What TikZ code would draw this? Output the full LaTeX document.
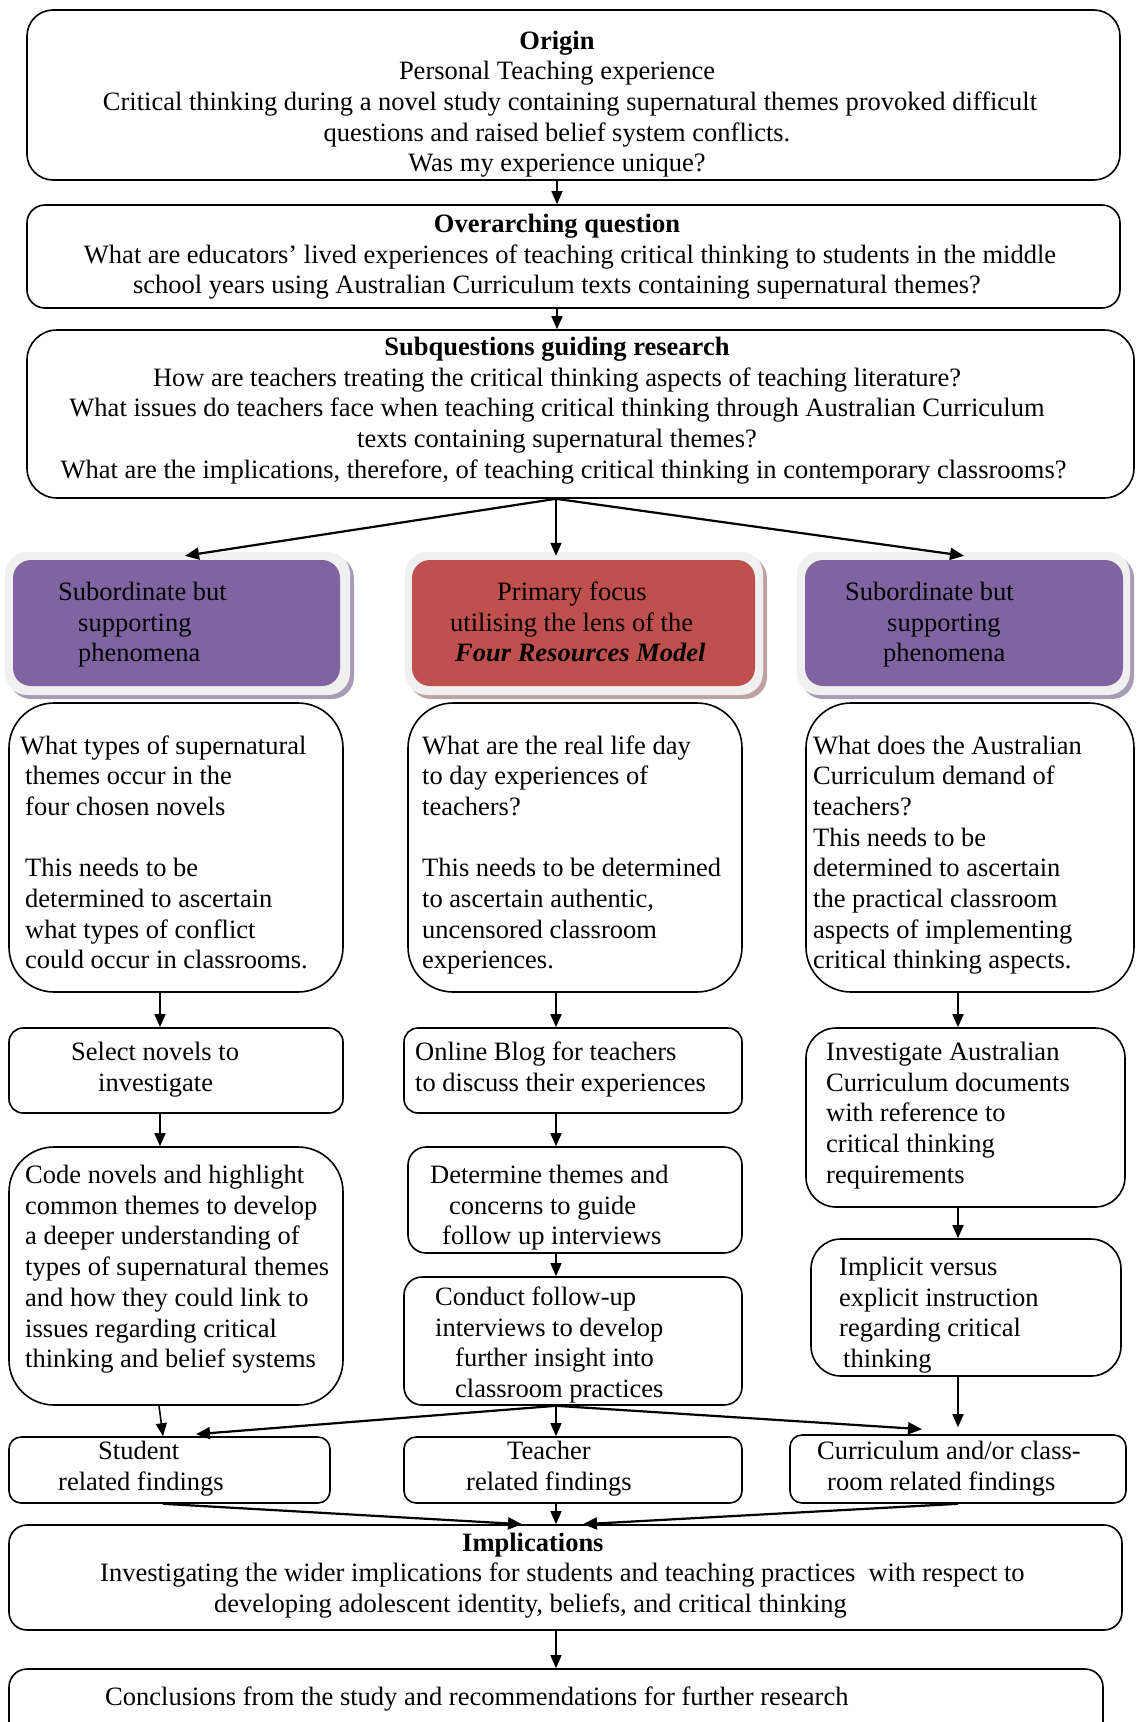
\documentclass[tikz,border=0pt]{standalone}
\usepackage{fontspec}
\setmainfont{Liberation Serif}
\usetikzlibrary{arrows.meta,calc}
\definecolor{purp}{HTML}{8064A2}
\definecolor{redb}{HTML}{C0504D}
\definecolor{halo}{HTML}{F0F0F0}
\definecolor{shadp}{HTML}{A69CB6}
\definecolor{shadr}{HTML}{BDA2A2}
\newcommand\mkbox[7][box]{%
  \node[#1, rounded corners=#7pt, minimum width={(#4-#2)*1pt}, minimum height={(#5-#3)*1pt}]
    (#6) at ({(#2+#4)/2},{(#3+#5)/2}) {};}
\begin{document}
\begin{tikzpicture}[x=1pt,y=-1pt,
  box/.style={draw=black, line width=1.6pt, rectangle, inner sep=0pt, fill=white},
  halobox/.style={draw=none, fill=halo, rectangle, inner sep=0pt},
  shadowp/.style={draw=none, fill=shadp, rectangle, inner sep=0pt},
  shadowr/.style={draw=none, fill=shadr, rectangle, inner sep=0pt},
  purpbox/.style={draw=none, fill=purp, rectangle, inner sep=0pt},
  redbox/.style={draw=none, fill=redb, rectangle, inner sep=0pt},
  txt/.style={inner sep=0pt, font=\fontsize{26.5}{30.7}\selectfont},
  ltxt/.style={txt, anchor=base west, align=left},
  ctxt/.style={txt, anchor=base, align=center},
  arr/.style={-{Triangle[length=13pt,width=11pt]}, line width=1.6pt},
  sarr/.style={-{Triangle[length=14pt,width=12pt]}, line width=2.2pt}
]
\useasboundingbox (0,0) rectangle (1136,1722);
% (text nodes are anchored at the baseline of their LAST line)

% ---------- top boxes ----------
\mkbox{27}{10}{1120}{180}{origin}{26}
\node[ctxt] (origin-t) at (557,171.8)
 {\textbf{Origin}\\Personal Teaching experience\\
  \hspace*{26pt}Critical thinking during a novel study containing supernatural themes provoked difficult\\
  questions and raised belief system conflicts.\\Was my experience unique?};

\mkbox{27}{205}{1120}{308}{over}{18}
\node[ctxt] (over-t) at (557,293.9)
 {\textbf{Overarching question}\\
  \hspace*{26pt}What are educators’ lived experiences of teaching critical thinking to students in the middle\\
  school years using Australian Curriculum texts containing supernatural themes?};

\mkbox{27}{330}{1134}{498}{subq}{30}
\node[ctxt] (subq-t) at (557,478.3)
 {\textbf{Subquestions guiding research}\\
  How are teachers treating the critical thinking aspects of teaching literature?\\
  What issues do teachers face when teaching critical thinking through Australian Curriculum\\
  texts containing supernatural themes?\\
  \hspace*{13pt}What are the implications, therefore, of teaching critical thinking in contemporary classrooms?};

% ---------- coloured boxes ----------
\mkbox[shadowp]{9}{556}{354}{699}{pl-s}{22}
\mkbox[halobox]{5}{552}{350}{695}{pl}{22}
\mkbox[purpbox]{13}{560}{340}{686}{pl-i}{18}
\node[ltxt] (pl-t) at (58,661.9)
 {Subordinate but\\\hspace*{20pt}supporting\\\hspace*{20pt}phenomena};

\mkbox[shadowr]{409}{556}{767}{699}{pm-s}{22}
\mkbox[halobox]{405}{552}{763}{695}{pm}{22}
\mkbox[redbox]{412}{560}{755}{686}{pm-i}{18}
\node[ltxt] (pm-t) at (450,661.9)
 {\hspace*{47pt}Primary focus\\utilising the lens of the\\\hspace*{5pt}\textbf{\textit{Four Resources Model}}};

\mkbox[shadowp]{801}{556}{1134}{699}{pr-s}{22}
\mkbox[halobox]{797}{552}{1130}{695}{pr}{22}
\mkbox[purpbox]{805}{560}{1123}{686}{pr-i}{18}
\node[ltxt] (pr-t) at (845,661.9)
 {Subordinate but\\\hspace*{42pt}supporting\\\hspace*{38pt}phenomena};

% ---------- question boxes ----------
\mkbox{9}{703}{343}{992}{qL}{45}
\node[ltxt] (qL-t) at (20,968.9)
 {What types of supernatural\\\hspace*{5pt}themes occur in the\\\hspace*{5pt}four chosen novels\\[30.7pt]
  \hspace*{5pt}This needs to be\\\hspace*{5pt}determined to ascertain\\\hspace*{5pt}what types of conflict\\\hspace*{5pt}could occur in classrooms.};

\mkbox{408}{703}{742}{992}{qM}{45}
\node[ltxt] (qM-t) at (422,968.9)
 {What are the real life day\\to day experiences of\\teachers?\\[30.7pt]
  This needs to be determined\\to ascertain authentic,\\uncensored classroom\\experiences.};

\mkbox{806}{703}{1134}{992}{qR}{45}
\node[ltxt] (qR-t) at (813,968.9)
 {What does the Australian\\Curriculum demand of\\teachers?\\This needs to be\\determined to ascertain\\the practical classroom\\aspects of implementing\\critical thinking aspects.};

% ---------- second row ----------
\mkbox{9}{1028}{343}{1113}{select}{14}
\node[ltxt] (select-t) at (71,1091.2) {Select novels to\\\hspace*{27pt}investigate};

\mkbox{404}{1028}{742}{1113}{blog}{14}
\node[ltxt] (blog-t) at (415,1091.2) {Online Blog for teachers\\to discuss their experiences};

\mkbox{806}{1028}{1125}{1207}{invest}{30}
\node[ltxt] (invest-t) at (826,1183.3)
 {Investigate Australian\\Curriculum documents\\with reference to\\critical thinking\\requirements};

\mkbox{9}{1147}{343}{1405}{code}{45}
\node[ltxt] (code-t) at (25,1367.7)
 {Code novels and highlight\\common themes to develop\\a deeper understanding of\\types of supernatural themes\\and how they could link to\\issues regarding critical\\thinking and belief systems};

\mkbox{408}{1147}{742}{1253}{determine}{18}
\node[ltxt] (determine-t) at (430,1244.9)
 {Determine themes and\\\hspace*{19pt}concerns to guide\\\hspace*{12pt}follow up interviews};

\mkbox{404}{1277}{742}{1405}{conduct}{18}
\node[ltxt] (conduct-t) at (435,1397.6)
 {Conduct follow-up\\interviews to develop\\\hspace*{20pt}further insight into\\\hspace*{20pt}classroom practices};

\mkbox{811}{1239}{1121}{1376}{implicit}{30}
\node[ltxt] (implicit-t) at (839,1367.6)
 {Implicit versus\\explicit instruction\\regarding critical\\\hspace*{4pt}thinking};

% ---------- findings ----------
\mkbox{9}{1437}{330}{1503}{student}{12}
\node[ltxt] (student-t) at (58,1490.2) {\hspace*{40pt}Student\\related findings};

\mkbox{404}{1437}{742}{1503}{teacher}{12}
\node[ltxt] (teacher-t) at (466,1490.2) {\hspace*{41pt}Teacher\\related findings};

\mkbox{790}{1435}{1126}{1503}{curric}{12}
\node[ltxt] (curric-t) at (817,1490.2) {Curriculum and/or class-\\\hspace*{10pt}room related findings};

\mkbox{9}{1525}{1122}{1630}{impl}{18}
\node[ltxt] (impl-t) at (100,1612.4)
 {\hspace*{362pt}\textbf{Implications}\\
  Investigating the wider implications for students and teaching practices\ \ with respect to\\
  \hspace*{114pt}developing adolescent identity, beliefs, and critical thinking};

\mkbox{9}{1669}{1103}{1745}{concl}{18}
\node[ltxt] (concl-t) at (105,1705.5) {Conclusions from the study and recommendations for further research};

% ---------- connectors ----------
\draw[arr] ([xshift=-16.5pt]origin.south) -- ([xshift=-16.5pt]over.north);
\draw[arr] ([xshift=-16.5pt]over.south) -- ([xshift=-23.5pt]subq.north);
\draw[sarr] ([xshift=-24.5pt]subq.south) -- ([xshift=7.5pt,yshift=-4pt]pl.north);
\draw[arr] ([xshift=-24.5pt]subq.south) -- ([xshift=-28pt,yshift=-4pt]pm.north);
\draw[sarr] ([xshift=-24.5pt]subq.south) -- ([xshift=0.5pt,yshift=-4pt]pr.north);

\draw[arr] ([xshift=-16pt]qL.south) -- ([xshift=-16pt]select.north);
\draw[arr] ([xshift=-19pt]qM.south) -- ([xshift=-17pt]blog.north);
\draw[arr] ([xshift=-12pt]qR.south) -- ([xshift=-7.5pt]invest.north);

\draw[arr] ([xshift=-16pt]select.south) -- ([xshift=-16pt]code.north);
\draw[arr] ([xshift=-17pt]blog.south) -- ([xshift=-19pt]determine.north);
\draw[arr] ([xshift=-19pt]determine.south) -- ([xshift=-17pt]conduct.north);
\draw[arr] ([xshift=-7.5pt]invest.south) -- ([xshift=-8pt]implicit.north);

\draw[arr] ([xshift=-17pt]code.south) -- ([xshift=-6.5pt]student.north);
\draw[sarr] ([xshift=-17pt]conduct.south) -- ([xshift=26.5pt,yshift=2pt]student.north);
\draw[arr] ([xshift=-17pt]conduct.south) -- ([xshift=-17pt]teacher.north);
\draw[sarr] ([xshift=-17pt]conduct.south) -- ([xshift=-36pt,yshift=5pt]curric.north);
\draw[arr] ([xshift=-8pt]implicit.south) -- ([yshift=7pt]curric.north);

\draw[sarr] ([xshift=-6.5pt]student.south) -- ([xshift=-43.5pt]impl.north);
\draw[arr] ([xshift=-17pt]teacher.south) -- ([xshift=-9.5pt]impl.north);
\draw[sarr] (curric.south) -- ([xshift=17.5pt]impl.north);
\draw[arr] ([xshift=-9.5pt]impl.south) -- (concl.north);
\end{tikzpicture}
\end{document}
